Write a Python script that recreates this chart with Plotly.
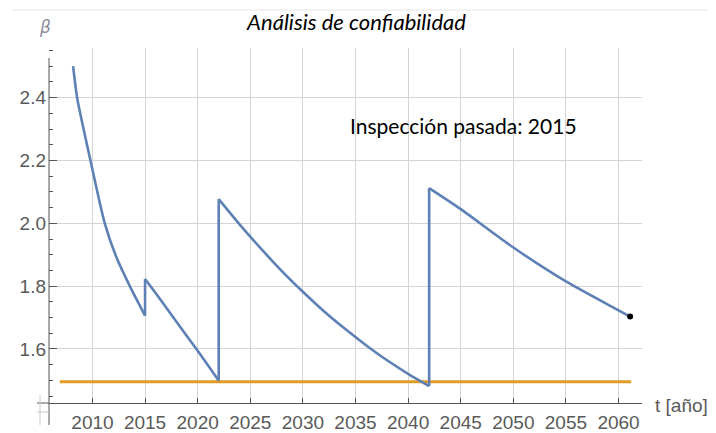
import plotly.graph_objects as go

# Blue reliability index curve; repeated t marks an inspection jump
t_years = [2008.16, 2008.54, 2009.18, 2009.81, 2011.17, 2012.3, 2013.55, 2015.0,
           2015.0, 2016.0, 2018.0, 2020.0, 2022.0,
           2022.0, 2024.0, 2026.0, 2028.0, 2030.0, 2032.0, 2034.0, 2036.0, 2038.0, 2040.0, 2042.0,
           2042.0, 2045.0, 2050.0, 2055.0, 2060.0, 2061.1]
beta = [2.50, 2.40, 2.296, 2.20, 2.00, 1.89, 1.80, 1.706,
        1.823, 1.778, 1.686, 1.594, 1.499,
        2.077, 1.996, 1.920, 1.848, 1.782, 1.720, 1.664, 1.612, 1.564, 1.521, 1.482,
        2.112, 2.045, 1.923, 1.815, 1.723, 1.703]

# Target (limit) reliability line
target_x = [2006.9, 2061.2]
target_y = [1.496, 1.496]

# End point marker
end_x = [2061.1]
end_y = [1.703]

x_ticks = [2010, 2015, 2020, 2025, 2030, 2035, 2040, 2045, 2050, 2055, 2060]
y_ticks = [1.6, 1.8, 2.0, 2.2, 2.4]
y_ticklabels = ["1.6", "1.8", "2.0", "2.2", "2.4"]

BLUE = "#5E81B5"
ORANGE = "#E19C24"
GRID = "#d4d4d4"
AXIS = "#555555"
TICKFONT = dict(family="Liberation Sans", size=19, color="#5a5a5a")

# split curve into continuous segments at the jumps
segments = []
start = 0
for i in range(1, len(t_years)):
    if t_years[i] == t_years[i - 1]:
        segments.append((start, i))
        start = i
segments.append((start, len(t_years)))

jump_x, jump_y = [], []
for (a, b), (c, d) in zip(segments[:-1], segments[1:]):
    jump_x += [t_years[b - 1], t_years[c], None]
    jump_y += [beta[b - 1], beta[c], None]

fig = go.Figure()
fig.add_trace(go.Scatter(x=target_x, y=target_y, mode="lines",
                         line=dict(color=ORANGE, width=3), hoverinfo="skip"))
for a, b in segments:
    fig.add_trace(go.Scatter(x=t_years[a:b], y=beta[a:b], mode="lines",
                             line=dict(color=BLUE, width=2.6, shape="spline", smoothing=0.7),
                             hoverinfo="skip"))
fig.add_trace(go.Scatter(x=jump_x, y=jump_y, mode="lines",
                         line=dict(color=BLUE, width=2.6), hoverinfo="skip"))
fig.add_trace(go.Scatter(x=end_x, y=end_y, mode="markers",
                         marker=dict(color="black", size=6), hoverinfo="skip"))

# the page body adds an 8px offset; work in reference pixels and shift
OFF = 8
W, H = 716 - OFF, 433 - OFF
L, R, T, B = 49 - OFF, 74, 48 - OFF, 30
pw, ph = W - L - R, H - T - B

def px(x):
    return (x - OFF - L) / pw

def py(y):
    return (H - B - (y - OFF)) / ph

fig.update_layout(
    width=W, height=H,
    margin=dict(l=L, r=R, t=T, b=B, autoexpand=False),
    paper_bgcolor="white", plot_bgcolor="white",
    showlegend=False,
    title=dict(text="<i>Análisis de confiabilidad</i>", xref="container", yref="container",
               x=(356.5 - OFF) / W, y=1 - (22 - OFF) / H, xanchor="center", yanchor="middle",
               font=dict(family="Lato", size=22, color="black")),
    xaxis=dict(range=[2005.87, 2062.23], tickvals=x_ticks, ticktext=[str(v) for v in x_ticks],
               automargin=False,
               showgrid=True, gridcolor=GRID, gridwidth=1, zeroline=False,
               showline=True, linecolor=AXIS, linewidth=1,
               ticks="inside", ticklen=5, tickcolor=AXIS,
               tickfont=TICKFONT, ticklabelstandoff=2),
    yaxis=dict(range=[1.428, 2.558], tickvals=y_ticks, ticktext=y_ticklabels,
               automargin=False,
               showgrid=True, gridcolor=GRID, gridwidth=1, zeroline=False,
               showline=False,
               ticks="inside", ticklen=8, tickcolor=AXIS,
               minor=dict(ticks="inside", dtick=0.05, ticklen=4, tickcolor=AXIS, showgrid=False),
               tickfont=TICKFONT, ticklabelstandoff=2),
)

shapes = [
    # white background of the text box covering gridlines
    dict(type="rect", xref="paper", yref="paper", x0=px(258), x1=1.0, y0=py(172), y1=py(103),
         fillcolor="white", line=dict(width=0), layer="between"),
    # top separator line
    dict(type="line", xref="paper", yref="paper", x0=px(13), x1=px(716), y0=py(10), y1=py(10),
         line=dict(color="#e6e6e6", width=1)),
    # y axis line (starts a little below the plot top, runs past the x axis)
    dict(type="line", xref="paper", yref="paper", x0=0, x1=0, y0=py(425), y1=py(58),
         line=dict(color=AXIS, width=1)),
    # x axis extension to the left (Mathematica axis crossing)
    dict(type="line", xref="paper", yref="paper", x0=px(37), x1=0, y0=0, y1=0,
         line=dict(color=AXIS, width=1)),
    dict(type="line", xref="paper", yref="paper", x0=px(37), x1=0, y0=py(412), y1=py(412),
         line=dict(color="#c8c8c8", width=1)),
    dict(type="line", xref="paper", yref="paper", x0=px(40), x1=px(40), y0=py(425), y1=py(395),
         line=dict(color="#c8c8c8", width=1)),
]
fig.update_layout(shapes=shapes)

annotations = [
    dict(text="Inspección pasada: 2015", xref="paper", yref="paper",
         x=px(463.5), y=py(125), xanchor="center", yanchor="middle", showarrow=False,
         font=dict(family="Lato", size=21, color="black")),
    dict(text="<i>β</i>", xref="paper", yref="paper",
         x=px(44.5), y=py(27), xanchor="center", yanchor="middle", showarrow=False,
         font=dict(family="DejaVu Sans", size=17, color="#8a8c9a")),
    dict(text="t [año]", xref="paper", yref="paper",
         x=px(681.5), y=py(405), xanchor="center", yanchor="middle", showarrow=False,
         font=dict(family="Liberation Sans", size=19, color="#5a5a5a")),
]
fig.update_layout(annotations=annotations)

fig.write_html("out.html")
